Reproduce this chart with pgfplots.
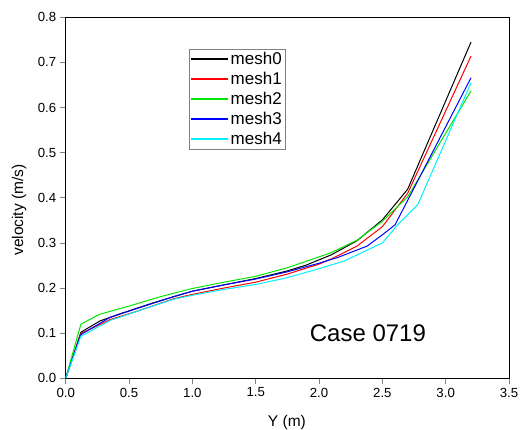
\documentclass[border=0pt]{standalone}
\usepackage{fontspec}
\setmainfont{Liberation Sans}
\usepackage{pgfplots}
\pgfplotsset{compat=1.18}

\definecolor{cgreen}{RGB}{0,230,0}
\definecolor{ccyan}{RGB}{0,240,255}

\begin{document}
\begin{tikzpicture}
\useasboundingbox (-65.7bp,-51.7bp) rectangle (454.3bp,378.3bp);
\begin{axis}[
    scale only axis,
    width=443.3bp, height=361bp,
    xmin=0, xmax=3.5, ymin=0, ymax=0.8,
    xtick={0,0.5,...,3.5},
    ytick={0,0.1,...,0.8},
    xtick pos=bottom, ytick pos=left,
    tick align=outside,
    major tick length=6bp,
    axis line style={line width=0.8bp},
    tick style={line width=0.8bp},
    /pgf/number format/.cd, fixed, fixed zerofill, precision=1, assume math mode=true,
    /pgfplots/.cd,
    ticklabel style={font=\fontsize{13.2bp}{15bp}\selectfont},
    xlabel={Y (m)},
    ylabel={velocity (m/s)},
    every axis x label/.style={at={(axis description cs:0.499,-0.123)}, anchor=center, font=\fontsize{15.5bp}{18bp}\selectfont},
    every axis y label/.style={at={(axis description cs:-0.105,0.466)}, rotate=90, anchor=center, font=\fontsize{15.5bp}{18bp}\selectfont},
    legend cell align=left,
    legend style={at={(axis description cs:0.278,0.912)}, anchor=north west,
        draw=gray, inner sep=1bp, row sep=2.2bp,
        font=\fontsize{17bp}{19bp}\selectfont},
    legend image code/.code={\draw[#1, line width=1.6bp] (0bp,0bp) -- (37bp,0bp);},
    every axis plot/.append style={line width=1bp},
]
\addplot[draw=black] coordinates {
(0,0) (0.12,0.102) (0.27,0.127) (0.45,0.145) (0.7,0.168) (1.0,0.193) (1.3,0.210) (1.5,0.221) (1.75,0.238) (1.9,0.251) (2.1,0.274) (2.3,0.305) (2.5,0.351) (2.7,0.419) (3.2,0.745)};
\addplot[draw=red] coordinates {
(0,0) (0.12,0.099) (0.35,0.130) (0.6,0.152) (0.85,0.176) (1.0,0.186) (1.25,0.200) (1.5,0.213) (1.75,0.231) (2.0,0.253) (2.1,0.265) (2.3,0.293) (2.5,0.336) (2.7,0.410) (3.2,0.714)};
\addplot[draw=cgreen] coordinates {
(0,0) (0.12,0.120) (0.27,0.142) (0.5,0.160) (0.75,0.181) (0.9,0.192) (1.0,0.199) (1.25,0.213) (1.5,0.226) (1.75,0.245) (2.0,0.269) (2.1,0.279) (2.3,0.306) (2.5,0.348) (2.7,0.402) (3.2,0.637)};
\addplot[draw=blue] coordinates {
(0,0) (0.12,0.097) (0.35,0.135) (0.6,0.158) (0.85,0.181) (1.0,0.193) (1.25,0.207) (1.5,0.220) (1.75,0.236) (2.0,0.255) (2.15,0.268) (2.38,0.293) (2.5,0.318) (2.6,0.340) (3.2,0.666)};
\addplot[draw=ccyan] coordinates {
(0,0) (0.12,0.093) (0.35,0.128) (0.6,0.152) (0.85,0.175) (1.0,0.184) (1.25,0.197) (1.5,0.208) (1.75,0.223) (2.0,0.243) (2.2,0.260) (2.5,0.300) (2.62,0.340) (2.78,0.385) (3.2,0.655)};
\legend{mesh0,mesh1,mesh2,mesh3,mesh4}
\node[font=\fontsize{24bp}{28bp}\selectfont] at (axis cs:2.386,0.1005) {Case 0719};
\end{axis}
\end{tikzpicture}
\end{document}
